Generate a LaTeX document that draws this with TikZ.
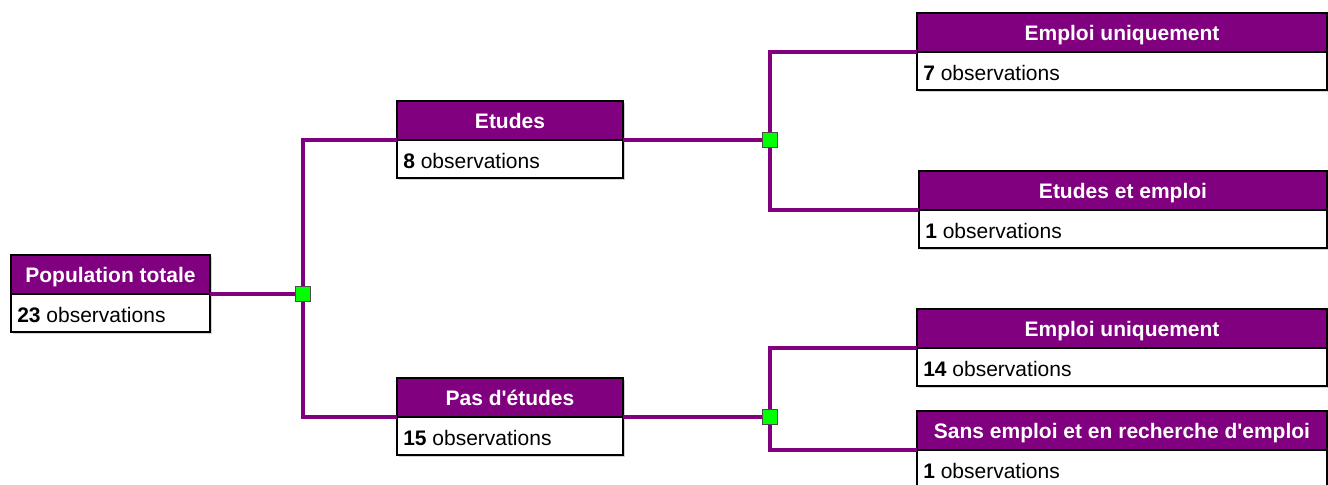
\documentclass[tikz,border=0pt]{standalone}
\usepackage{fontspec}
\setmainfont{Liberation Sans}
\usetikzlibrary{positioning,shadows}
\definecolor{treepurple}{HTML}{800080}
\definecolor{knotgreen}{HTML}{00FF00}
\def\pxu{0.75pt}
\tikzset{
	head/.style={draw=black, line width=1pt, fill=treepurple, text=white, anchor=north west, outer sep=0pt,
		font=\bfseries\fontsize{15.75}{18}\selectfont, minimum height=39*\pxu, inner sep=0pt,
		text height=11.3pt, text depth=0pt,
		drop shadow={shadow xshift=1.2pt, shadow yshift=-1.2pt, fill=black!35}},
	body/.style={draw=black, line width=1pt, fill=white, anchor=north west, outer sep=0pt,
		minimum height=38*\pxu, inner sep=0pt,
		drop shadow={shadow xshift=1.2pt, shadow yshift=-1.2pt, fill=black!35}},
	count/.style={anchor=west, inner sep=0pt, text height=11.3pt, text depth=0pt,
		font=\fontsize{15.75}{18}\selectfont},
	link/.style={draw=treepurple, line width=2.3pt},
	knot/.style={draw=black!70, line width=0.6pt, fill=knotgreen, minimum size=15*\pxu, inner sep=0pt}
}
% name, x, y, width, title, count
\newcommand\treebox[6]{%
	\node[head, minimum width=#4*\pxu] (#1) at (#2,#3) {#5};
	\node[body, minimum width=#4*\pxu] (#1b) at (#1.south west) {};
	\node[count] (#1t) at ([xshift=6*\pxu, yshift=-1.5*\pxu]#1b.west) {\textbf{#6} observations};
}

\begin{document}
\begin{tikzpicture}[x=0.75pt, y=-0.75pt]
	\useasboundingbox (0,0) rectangle (1328,485);
	\clip (0,0) rectangle (1328,485);
	%%%%% BOXES %%%%%
	\treebox{pop}{11}{255}{199}{Population totale}{23}
	\treebox{etu}{397}{101}{226}{Etudes}{8}
	\treebox{pas}{397}{378}{226}{Pas d\textquotesingle études}{15}
	\treebox{empa}{917}{13}{410}{Emploi uniquement}{7}
	\treebox{etem}{919}{171}{408}{Etudes et emploi}{1}
	\treebox{empb}{917}{309}{410}{Emploi uniquement}{14}
	\treebox{sans}{917}{411}{410}{Sans emploi et en recherche d\textquotesingle emploi}{1}
	
	%%%%% JUNCTIONS %%%%%
	\coordinate (k1) at (303,294);
	\coordinate (k2) at (770,140);
	\coordinate (k3) at (770,417);
	
	\draw[link] (pop.south east) -- (k1);
	\draw[link] (etu.south west) -| (k1) |- (pas.south west);
	
	\draw[link] (etu.south east) -- (k2);
	\draw[link] (empa.south west) -| (k2) |- (etem.south west);
	
	\draw[link] (pas.south east) -- (k3);
	\draw[link] (empb.south west) -| (k3) |- (sans.south west);
	
	\node[knot] (k1n) at (k1) {};
	\node[knot] (k2n) at (k2) {};
	\node[knot] (k3n) at (k3) {};
\end{tikzpicture}
\end{document}
